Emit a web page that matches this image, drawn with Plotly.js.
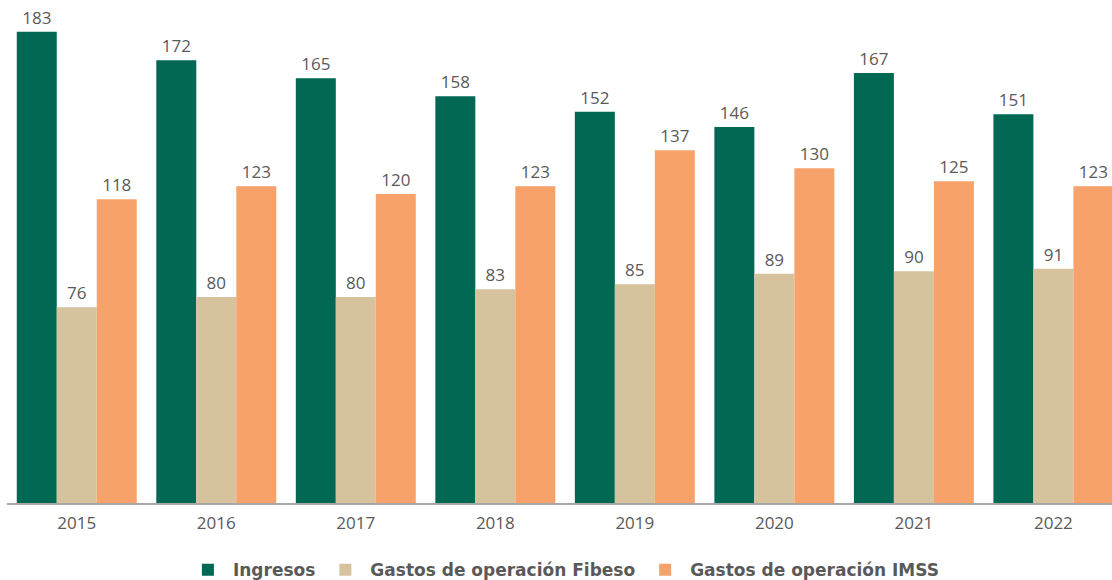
<!DOCTYPE html>
<html>
<head>
<meta charset="utf-8">
<script src="https://cdn.plot.ly/plotly-3.0.1.min.js"></script>
<style>html,body{margin:0;padding:0;background:#fff;}#chart{width:1112px;height:580px;}</style>
</head>
<body>
<div id="chart"></div>
<script>
const years = ["2015","2016","2017","2018","2019","2020","2021","2022"];
const ingresos = [183,172,165,158,152,146,167,151];
const gastosFibeso = [76,80,80,83,85,89,90,91];
const gastosIMSS = [118,123,120,123,137,130,125,123];
const seriesNames = ["Ingresos","Gastos de operación Fibeso","Gastos de operación IMSS"];
const colors = ["#006853","#D6C29D","#F7A26B"];

const fontFam = "'Open Sans', 'Noto Sans', sans-serif";
const legendFam = "'DejaVu Sans', sans-serif";
const textColor = "#595959";

function mk(vals, i){
  return {
    type:'bar', x:years, y:vals, name:seriesNames[i],
    marker:{color:colors[i], line:{width:0}},
    text: vals.map(String), textposition:'outside', cliponaxis:false,
    textfont:{family:fontFam, size:17, color:textColor},
    hoverinfo:'skip'
  };
}
const data = [mk(ingresos,0), mk(gastosFibeso,1), mk(gastosIMSS,2)];
const layout = {
  width:1112, height:580,
  margin:{l:7, r:0, t:20, b:77, autoexpand:false},
  paper_bgcolor:'#fff', plot_bgcolor:'#fff',
  barmode:'group', bargap:0.14, bargroupgap:0,
  showlegend:true,
  legend:{orientation:'h', x:0.504, xanchor:'center', y:-0.139, yanchor:'middle',
    font:{family:legendFam, size:17, color:textColor, weight:'bold'}, itemwidth:40, traceorder:'normal'},
  xaxis:{type:'category', range:[-0.5,7.42], showgrid:false, showline:true, linecolor:'#A6A6A6', linewidth:2,
    ticks:'outside', ticklen:4, tickcolor:'rgba(0,0,0,0)', automargin:false,
    tickfont:{family:fontFam, size:17, color:textColor}, fixedrange:true},
  yaxis:{range:[0,187.6], visible:false, showgrid:false, zeroline:false, fixedrange:true},
  font:{family:fontFam}
};
Plotly.newPlot('chart', data, layout, {displayModeBar:false, staticPlot:true});
</script>
</body>
</html>
